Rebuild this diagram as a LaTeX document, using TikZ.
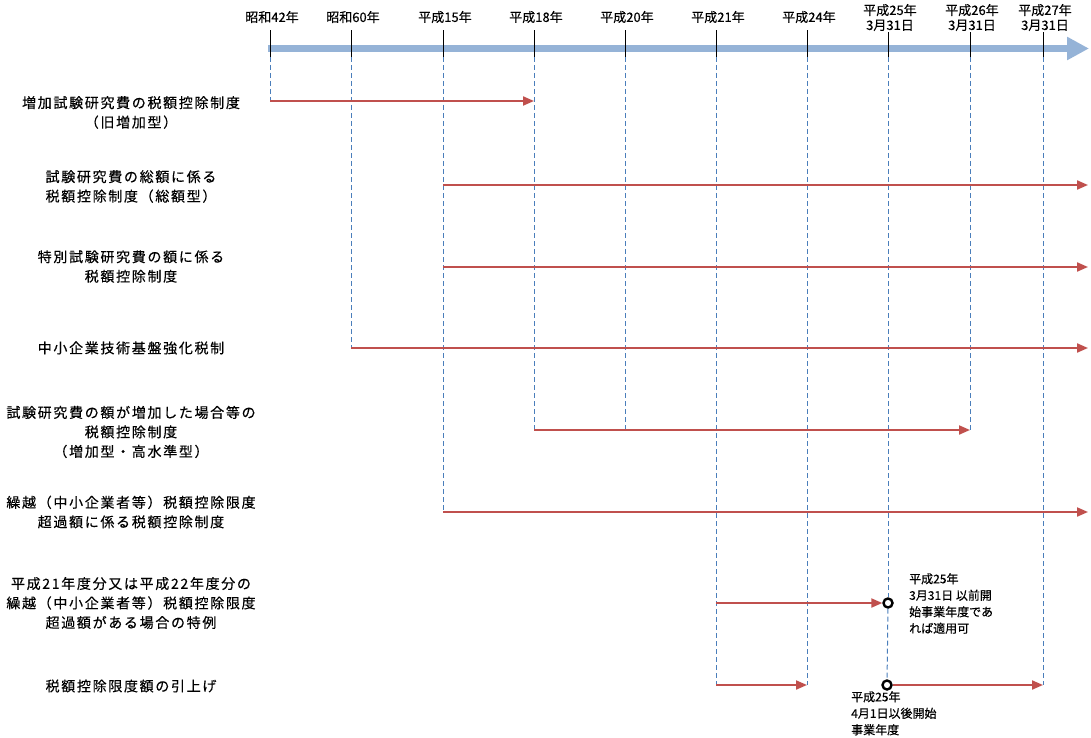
\documentclass[tikz,border=0pt]{standalone}
\usepackage{fontspec}
\setmainfont[FakeBold=0.4]{Noto Sans CJK JP}
\newfontfamily\lblfont[LetterSpace=12,FakeBold=0.4]{Noto Sans CJK JP}
\usetikzlibrary{arrows.meta}
\definecolor{barblue}{HTML}{95B3D7}
\definecolor{lineblue}{HTML}{4A7EBB}
\definecolor{arrred}{HTML}{C0504D}

\begin{document}
\begin{tikzpicture}[x=1pt,y=-1pt,
  yr/.style={font=\fontsize{13}{15}\selectfont,align=center,inner sep=0pt},
  row/.style={font=\lblfont\fontsize{14}{19.5}\selectfont,align=center,inner sep=0pt},
  note/.style={font=\fontsize{12}{16.5}\selectfont,align=left,inner sep=0pt,anchor=north west},
  tick/.style={black,line width=1pt},
  guide/.style={lineblue,line width=1pt,dash pattern=on 5pt off 3pt},
  span/.style={arrred,line width=2pt,->,>={Triangle[length=11pt,width=9pt]}},
  ring/.style={circle,draw,black,fill=white,line width=2.4pt,inner sep=0pt,minimum size=9pt}]
\useasboundingbox (0,0) rectangle (1091,738);
\draw[barblue,line width=7pt,-{Triangle[length=22pt,width=22pt]}] (268,48.5) -- (1089,48.5);

\coordinate (s42) at (270,57);
\coordinate (s60) at (351,57);
\coordinate (h15) at (443,57);
\coordinate (h18) at (534,57);
\coordinate (h20) at (625,57);
\coordinate (h21) at (716,57);
\coordinate (h24) at (807,57);
\coordinate (h25) at (888,57);
\coordinate (h26) at (970,57);
\coordinate (h27) at (1043,57);
\coordinate (r1) at (0,101);
\coordinate (r2) at (0,185);
\coordinate (r3) at (0,267);
\coordinate (r4) at (0,348);
\coordinate (r5) at (0,430);
\coordinate (r6) at (0,512);
\coordinate (r7) at (0,603);
\coordinate (r8) at (0,685);
\coordinate (end) at (1088,0);

\node[yr] (y42) at (272,17) {昭和42年};
\node[yr] (y60) at (353,17) {昭和60年};
\node[yr] (y15) at (445,17) {平成15年};
\node[yr] (y18) at (536,17) {平成18年};
\node[yr] (y20) at (627,17) {平成20年};
\node[yr] (y21) at (718,17) {平成21年};
\node[yr] (y24) at (809,17) {平成24年};
\node[yr] (y25) at (890,17.5) {平成25年\\3月31日};
\node[yr] (y26) at (972,17.5) {平成26年\\3月31日};
\node[yr] (y27) at (1045,17.5) {平成27年\\3月31日};

\draw[tick] (s42) -- ++(0,-27);
\draw[tick] (s60) -- ++(0,-27);
\draw[tick] (h15) -- ++(0,-27);
\draw[tick] (h18) -- ++(0,-27);
\draw[tick] (h20) -- ++(0,-27);
\draw[tick] (h21) -- ++(0,-27);
\draw[tick] (h24) -- ++(0,-27);
\draw[tick] (h25) -- ++(0,-25);
\draw[tick] (h26) -- ++(0,-25);
\draw[tick] (h27) -- ++(0,-25);

\node[ring] (c1) at (888,603) {};
\node[ring] (c2) at (887,685) {};

\draw[guide] (s42) -- (s42 |- r1);
\draw[guide] (s60) -- (s60 |- r4);
\draw[guide] (h15) -- (h15 |- r6);
\draw[guide] (h18) -- (h18 |- r5);
\draw[guide] (h20) -- (h20 |- r5);
\draw[guide] (h21) -- (h21 |- r8);
\draw[guide] (h24) -- (h24 |- r8);
\draw[guide] (h25) -- (c1);
\draw[guide] (c1) -- (c2);
\draw[guide] (h26) -- (h26 |- r5);
\draw[guide] (h27) -- (h27 |- r8);

\node[row] (n1) at (131,112.5) {増加試験研究費の税額控除制度\\（旧増加型）};
\node[row] (n2) at (131,186.5) {試験研究費の総額に係る\\税額控除制度（総額型）};
\node[row] (n3) at (131,266.5) {特別試験研究費の額に係る\\税額控除制度};
\node[row] (n4) at (131,348) {中小企業技術基盤強化税制};
\node[row] (n5) at (131,432) {試験研究費の額が増加した場合等の\\税額控除制度\\（増加型・高水準型）};
\node[row] (n6) at (131,512) {繰越（中小企業者等）税額控除限度\\超過額に係る税額控除制度};
\node[row] (n7) at (131,603) {平成21年度分又は平成22年度分の\\繰越（中小企業者等）税額控除限度\\超過額がある場合の特例};
\node[row] (n8) at (131,686) {税額控除限度額の引上げ};

\draw[span] (s42 |- r1) -- (h18 |- r1);
\draw[span] (h15 |- r2) -- (end |- r2);
\draw[span] (h15 |- r3) -- (end |- r3);
\draw[span] (s60 |- r4) -- (end |- r4);
\draw[span] (h18 |- r5) -- (h26 |- r5);
\draw[span] (h15 |- r6) -- (end |- r6);
\draw[span] (h21 |- r7) -- (c1);
\draw[span] (h21 |- r8) -- (h24 |- r8);
\draw[span] (c2) -- (h27 |- r8);

\node[note] (a1) at (909,573) {平成25年\\3月31日 以前開\\始事業年度であ\\れば適用可};
\node[note] (a2) at (851,691) {平成25年\\4月1日以後開始\\事業年度};
\end{tikzpicture}
\end{document}
